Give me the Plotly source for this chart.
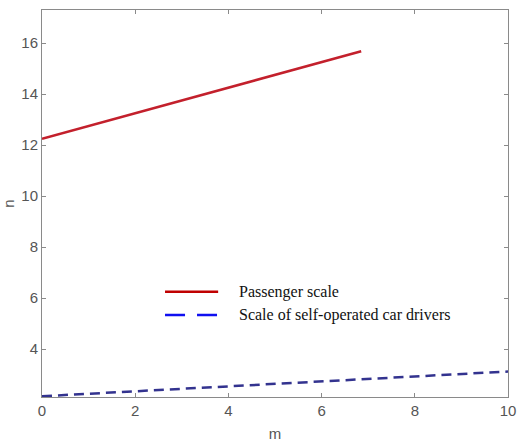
import plotly.graph_objects as go

# Data
passenger_x = [0, 6.85]
passenger_y = [12.25, 15.68]
drivers_x = [0, 10]
drivers_y = [2.15, 3.12]
x_ticks = [0, 2, 4, 6, 8, 10]
y_ticks = [4, 6, 8, 10, 12, 14, 16]
series_names = ["Passenger scale", "Scale of self-operated car drivers"]

fig = go.Figure()
fig.add_trace(go.Scatter(x=passenger_x, y=passenger_y, mode="lines",
                         line=dict(color="#c3202c", width=2.5), name=series_names[0], showlegend=False))
fig.add_trace(go.Scatter(x=drivers_x, y=drivers_y, mode="lines",
                         line=dict(color="#33338f", width=2.5, dash="10px,6px"), name=series_names[1], showlegend=False))

# manual legend
legend_colors = ["#c00000", "#1010f0"]
legend_dash = ["solid", "20px,12px"]
legend_y = [0.272, 0.212]
for name, col, dsh, yy in zip(series_names, legend_colors, legend_dash, legend_y):
    fig.add_shape(type="line", xref="paper", yref="paper", x0=0.264, x1=0.378, y0=yy, y1=yy,
                  line=dict(color=col, width=2.5, dash=dsh))
    fig.add_annotation(xref="paper", yref="paper", x=0.418, y=yy, text=name, showarrow=False,
                       xanchor="left", yanchor="middle",
                       font=dict(family="Liberation Serif, Times New Roman, serif", size=16, color="#111"))

axis_common = dict(showgrid=False, zeroline=False, showline=True, linecolor="#8a8a8a", linewidth=1,
                   ticks="inside", ticklen=4, tickcolor="#8a8a8a", mirror="ticks", automargin=False,
                   tickfont=dict(family="Liberation Sans, Arial, sans-serif", size=15, color="#555"))
fig.update_xaxes(range=[0, 10], tickvals=x_ticks, title=dict(text="m", standoff=10,
                 font=dict(family="Liberation Sans, Arial", size=15, color="#555")), **axis_common)
fig.update_yaxes(range=[2.12, 17.3], tickvals=y_ticks, title=dict(text="n", standoff=4,
                 font=dict(family="Liberation Sans, Arial", size=15, color="#555")), **axis_common)
fig.update_layout(width=517, height=446, margin=dict(l=42, r=9, t=10, b=49),
                  plot_bgcolor="white", paper_bgcolor="white")
fig.write_html("out.html")
